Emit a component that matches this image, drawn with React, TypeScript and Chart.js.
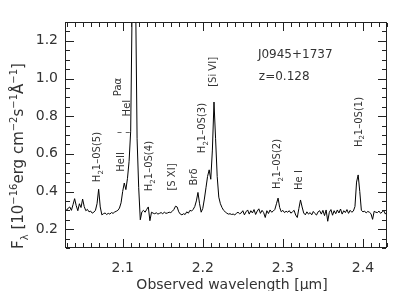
import React, { useEffect, useRef } from 'react';
import { Chart, registerables } from 'chart.js';

Chart.register(...registerables);

// Wavelength grid of the spectrum (micron)
const WAVE_START = 2.028;
const WAVE_STEP = 0.002;

// Observed flux density, 10^-16 erg cm^-2 s^-1 A^-1
const FLUX = [
  0.310, 0.300, 0.312, 0.318, 0.300,
  0.330, 0.362, 0.325, 0.298, 0.335,
  0.315, 0.360, 0.320, 0.298, 0.305,
  0.292, 0.296, 0.285, 0.290, 0.300,
  0.335, 0.412, 0.318, 0.276, 0.282,
  0.286, 0.278, 0.284, 0.280, 0.288,
  0.284, 0.291, 0.295, 0.300, 0.312,
  0.340, 0.400, 0.445, 0.410, 0.470,
  0.560, 0.720, 1.450, 1.900, 1.500,
  0.680, 0.420, 0.250, 0.292, 0.300,
  0.290, 0.305, 0.318, 0.245, 0.290,
  0.285, 0.282, 0.287, 0.280, 0.284,
  0.288, 0.282, 0.290, 0.284, 0.286,
  0.290, 0.288, 0.295, 0.305, 0.322,
  0.318, 0.292, 0.280, 0.276, 0.282,
  0.278, 0.292, 0.285, 0.300, 0.296,
  0.305, 0.320, 0.350, 0.395, 0.335,
  0.290, 0.310, 0.360, 0.420, 0.480,
  0.515, 0.465, 0.620, 0.875, 0.680,
  0.480, 0.370, 0.335, 0.315, 0.300,
  0.292, 0.285, 0.280, 0.282, 0.278,
  0.280, 0.276, 0.284, 0.290, 0.282,
  0.286, 0.298, 0.276, 0.292, 0.302,
  0.280, 0.298, 0.286, 0.304, 0.278,
  0.296, 0.308, 0.284, 0.300, 0.288,
  0.262, 0.298, 0.283, 0.302, 0.290,
  0.296, 0.305, 0.335, 0.365, 0.315,
  0.292, 0.300, 0.288, 0.295, 0.290,
  0.298, 0.285, 0.292, 0.300, 0.275,
  0.262, 0.310, 0.355, 0.318, 0.286,
  0.276, 0.292, 0.280, 0.288, 0.276,
  0.294, 0.283, 0.275, 0.292, 0.298,
  0.280, 0.300, 0.272, 0.302, 0.242,
  0.290, 0.304, 0.274, 0.298, 0.282,
  0.302, 0.286, 0.307, 0.280, 0.298,
  0.288, 0.304, 0.284, 0.300, 0.290,
  0.296, 0.320, 0.450, 0.488, 0.400,
  0.300, 0.292, 0.296, 0.286, 0.294,
  0.290, 0.282, 0.252, 0.295, 0.290,
  0.288, 0.296, 0.284, 0.292, 0.298,
  0.280, 0.292,
];

const X_MIN = 2.028;
const X_MAX = 2.43;
const Y_MIN = 0.1;
const Y_MAX = 1.3;
const X_TICKS = [2.1, 2.2, 2.3, 2.4];
const Y_TICKS = [0.2, 0.4, 0.6, 0.8, 1.0, 1.2];
const X_MINOR = 0.01;
const Y_MINOR = 0.05;

const X_TITLE = 'Observed wavelength [\u03bcm]';
// [text, kind] kind: 0 normal, 1 subscript, 2 superscript
const Y_TITLE: [string, number][] = [
  ['F', 0], ['\u03bb', 1], [' [10', 0], ['\u221216', 2], ['erg cm', 0], ['\u22122', 2],
  ['s', 0], ['\u22121', 2], ['\u00c5', 0], ['\u22121', 2], [']', 0],
];

const OBJECT_NAME = 'J0945+1737';
const REDSHIFT_TEXT = 'z=0.128';

// Line identifications, anchored in data coordinates (wavelength, flux)
const LINE_LABELS: { text: [string, number][]; wave: number; flux: number }[] = [
  { text: [['H', 0], ['2', 1], ['1\u20130S(5)', 0]], wave: 2.0675, flux: 0.583 },
  { text: [['HeII', 0]], wave: 2.0975, flux: 0.557 },
  { text: [['HeI', 0]], wave: 2.105, flux: 0.843 },
  { text: [['Pa\u03b1', 0]], wave: 2.0938, flux: 0.955 },
  { text: [['H', 0], ['2', 1], ['1\u20130S(4)', 0]], wave: 2.1325, flux: 0.535 },
  { text: [['[S XI]', 0]], wave: 2.1613, flux: 0.477 },
  { text: [['Br\u03b4', 0]], wave: 2.1888, flux: 0.477 },
  { text: [['H', 0], ['2', 1], ['1\u20130S(3)', 0]], wave: 2.1988, flux: 0.737 },
  { text: [['[Si VI]', 0]], wave: 2.2125, flux: 1.035 },
  { text: [['H', 0], ['2', 1], ['1\u20130S(2)', 0]], wave: 2.2925, flux: 0.546 },
  { text: [['He I', 0]], wave: 2.3194, flux: 0.461 },
  { text: [['H', 0], ['2', 1], ['1\u20130S(1)', 0]], wave: 2.3938, flux: 0.769 },
];

const FONT = '"DejaVu Sans", sans-serif';
const TEXT_COLOR = '#333333';
const AXIS_COLOR = '#222222';

function drawRich(
  ctx: CanvasRenderingContext2D,
  parts: [string, number][],
  cx: number,
  cy: number,
  size: number,
  rotate: boolean,
  align: 'center' | 'left' = 'center'
) {
  ctx.save();
  ctx.translate(cx, cy);
  if (rotate) ctx.rotate(-Math.PI / 2);
  const small = Math.round(size * 0.65);
  const widths = parts.map(([t, k]) => {
    ctx.font = `${k ? small : size}px ${FONT}`;
    return ctx.measureText(t).width;
  });
  const total = widths.reduce((a, b) => a + b, 0);
  let xx = align === 'center' ? -total / 2 : 0;
  ctx.textBaseline = 'alphabetic';
  ctx.textAlign = 'left';
  ctx.fillStyle = TEXT_COLOR;
  const base = size * 0.36;
  parts.forEach(([t, k], i) => {
    ctx.font = `${k ? small : size}px ${FONT}`;
    const dy = k === 1 ? size * 0.28 : k === 2 ? -size * 0.42 : 0;
    ctx.fillText(t, xx, base + dy);
    xx += widths[i];
  });
  ctx.restore();
}

const decorPlugin = {
  id: 'decor',
  afterDraw(chart: any) {
    const ctx: CanvasRenderingContext2D = chart.ctx;
    const a = chart.chartArea;
    const xs = chart.scales.x;
    const ys = chart.scales.y;
    ctx.save();
    ctx.globalAlpha = 1;
    const L = Math.round(a.left);
    const R = Math.round(a.right) - 1;
    const T = Math.round(a.top);
    const B = Math.round(a.bottom) - 1;
    ctx.fillStyle = AXIS_COLOR;
    // frame
    ctx.fillRect(L, T, R - L + 1, 1);
    ctx.fillRect(L, B, R - L + 1, 1);
    ctx.fillRect(L, T, 1, B - T + 1);
    ctx.fillRect(R, T, 1, B - T + 1);
    // x ticks (bottom and top, pointing inward)
    for (let k = Math.ceil(X_MIN / X_MINOR - 1e-6); k * X_MINOR <= X_MAX + 1e-9; k++) {
      const px = Math.round(xs.getPixelForValue(k * X_MINOR));
      const len = k % 10 === 0 ? 8 : 4;
      ctx.fillRect(px, B - len, 1, len);
      ctx.fillRect(px, T + 1, 1, len);
    }
    // y ticks (left and right, pointing inward)
    for (let k = Math.ceil(Y_MIN / Y_MINOR - 1e-6); k * Y_MINOR <= Y_MAX + 1e-9; k++) {
      const py = Math.round(ys.getPixelForValue(k * Y_MINOR));
      const len = k % 4 === 0 ? 8 : 4;
      ctx.fillRect(L + 1, py, len, 1);
      ctx.fillRect(R - len, py, len, 1);
    }

    LINE_LABELS.forEach((lab) => {
      drawRich(ctx, lab.text, xs.getPixelForValue(lab.wave), ys.getPixelForValue(lab.flux), 10, true);
    });
    // dashes under HeI
    drawRich(ctx, [['\u2013 \u2013', 0]], xs.getPixelForValue(2.1013), ys.getPixelForValue(0.72), 10, false);

    drawRich(ctx, [[OBJECT_NAME, 0]], xs.getPixelForValue(2.2688), ys.getPixelForValue(1.13), 12, false, 'left');
    drawRich(ctx, [[REDSHIFT_TEXT, 0]], xs.getPixelForValue(2.27), ys.getPixelForValue(1.013), 12, false, 'left');

    drawRich(ctx, [[X_TITLE, 0]], (a.left + a.right) / 2 + 6, 284, 14, false);
    drawRich(ctx, Y_TITLE, 18, 156, 15, true);
    ctx.restore();
  },
};

export default function App() {
  const ref = useRef<HTMLCanvasElement | null>(null);
  useEffect(() => {
    if (!ref.current) return;
    const points = FLUX.map((f, i) => ({ x: WAVE_START + i * WAVE_STEP, y: f }));
    const chart = new Chart(ref.current, {
      type: 'line',
      data: {
        datasets: [
          {
            data: points,
            borderColor: '#000',
            borderWidth: 1,
            pointRadius: 0,
            tension: 0,
            fill: false,
          },
        ],
      },
      options: {
        animation: false,
        responsive: true,
        maintainAspectRatio: false,
        devicePixelRatio: 1,
        events: [],
        layout: { padding: { left: 0, right: 20, top: 22, bottom: 0 } },
        plugins: { legend: { display: false }, tooltip: { enabled: false } },
        scales: {
          x: {
            type: 'linear',
            min: X_MIN,
            max: X_MAX,
            grid: { display: false, drawTicks: false },
            border: { display: false },
            afterFit: (s: any) => {
              s.height = 43;
            },
            afterBuildTicks: (s: any) => {
              s.ticks = X_TICKS.map((v) => ({ value: v }));
            },
            ticks: {
              padding: 12,
              maxRotation: 0,
              autoSkip: false,
              color: TEXT_COLOR,
              font: { family: FONT, size: 14 },
              callback: (v: any) => Number(v).toFixed(1),
            },
          },
          y: {
            type: 'linear',
            min: Y_MIN,
            max: Y_MAX,
            grid: { display: false, drawTicks: false },
            border: { display: false },
            afterFit: (s: any) => {
              s.width = 65;
            },
            afterBuildTicks: (s: any) => {
              s.ticks = Y_TICKS.map((v) => ({ value: v }));
            },
            ticks: {
              padding: 7,
              autoSkip: false,
              color: TEXT_COLOR,
              font: { family: FONT, size: 14 },
              callback: (v: any) => Number(v).toFixed(1),
            },
          },
        },
      },
      plugins: [decorPlugin],
    });
    return () => chart.destroy();
  }, []);
  return (
    <div style={{ position: 'absolute', left: 0, top: 0, width: 407, height: 291, background: '#fff' }}>
      <canvas ref={ref} />
    </div>
  );
}
